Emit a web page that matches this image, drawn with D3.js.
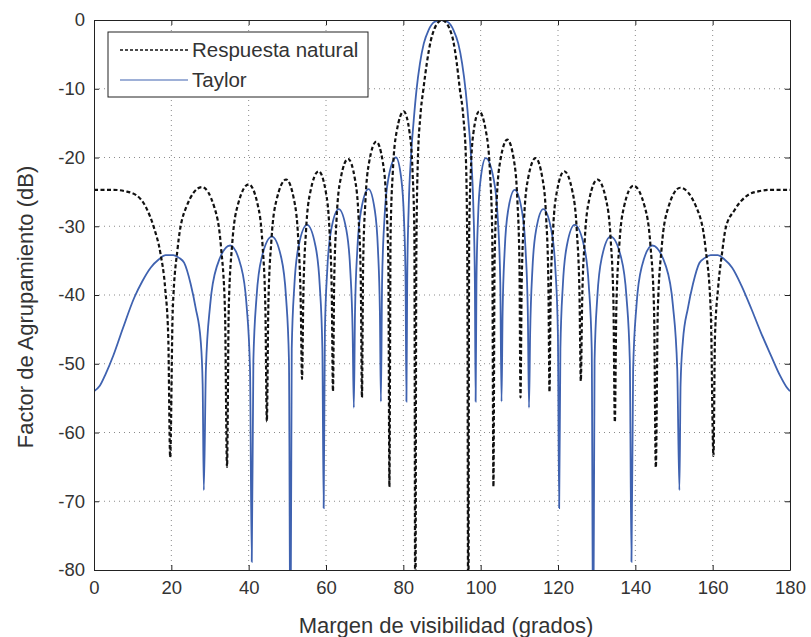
<!DOCTYPE html>
<html>
<head>
<meta charset="utf-8">
<script src="https://cdn.jsdelivr.net/npm/d3@7"></script>
<style>
  body { margin: 0; background: #fff; }
  text { font-family: "Liberation Sans", Arial, sans-serif; fill: #333; }
</style>
</head>
<body>
<div class="chart"></div>
<script>
var svgWidth = 811;
var svgHeight = 637;

var margin = { top: 20, right: 21, bottom: 67, left: 94 };
var width = svgWidth - margin.left - margin.right;
var height = svgHeight - margin.top - margin.bottom;

// tick labels
var xTicks = [0, 20, 40, 60, 80, 100, 120, 140, 160, 180];
var yTicks = [0, -10, -20, -30, -40, -50, -60, -70, -80];

// "Respuesta natural" (uniform array)
var naturalAngle = [
  0, 5, 8, 11, 13.5, 15.5, 17.2, 18.4, 19.2, 19.7,
  20.36, 21.67, 23.8, 27.9, 31.15, 32.84, 33.88, 34.4,
  34.85, 35.74, 37.2, 40.0, 42.35, 43.57, 44.32, 44.7,
  45.1, 45.9, 47.2, 49.7, 51.75, 52.82, 53.47, 53.8,
  54.14, 54.83, 55.95, 58.1, 59.95, 60.91, 61.5, 61.8,
  62.11, 62.74, 63.75, 65.7, 67.5, 68.44, 69.01, 69.3,
  69.6, 70.19, 71.15, 73.0, 74.7, 75.58, 76.13, 76.4,
  76.7, 77.29, 78.25, 80.1, 81.6, 82.38, 82.86, 83.1,
  83.35, 83.75, 84.4, 85.2, 86.1, 87.1, 88.1, 89.1, 90, 90.9, 91.9, 92.9, 93.8, 94.6, 95.5, 96.2, 96.55, 96.8,
  97.02, 97.45, 98.15, 99.6, 101.4, 102.39, 103.0, 103.3,
  103.59, 104.16, 105.1, 106.9, 108.6, 109.48, 110.03, 110.3,
  110.61, 111.24, 112.25, 114.2, 116.0, 116.94, 117.51, 117.8,
  118.1, 118.71, 119.7, 121.6, 123.75, 124.87, 125.56, 125.9,
  126.24, 126.93, 128.05, 130.2, 132.45, 133.62, 134.34, 134.7,
  135.08, 135.85, 137.1, 139.5, 142.4, 143.91, 144.84, 145.3,
  145.8, 146.81, 148.45, 151.6, 155.9, 158.14, 159.51, 160.2,
  160.6, 161.4, 162.4, 163.4, 165.6, 169, 172, 175, 180
];
var naturalDb = [
  -24.7, -24.7, -24.9, -25.5, -27.3, -30.2, -34, -39, -46, -63.6,
  -42.3, -33.0, -27.3, -24.3, -27.3, -33.0, -42.3, -65.0,
  -41.9, -32.6, -26.9, -23.9, -26.9, -32.6, -41.9, -58.4,
  -41.2, -31.9, -26.2, -23.2, -26.2, -31.9, -41.2, -52.2,
  -40.0, -30.7, -25.0, -22.0, -25.0, -30.7, -40.0, -54.0,
  -38.2, -28.9, -23.2, -20.2, -23.2, -28.9, -38.2, -54.9,
  -35.7, -26.4, -20.7, -17.7, -20.7, -26.4, -35.7, -67.9,
  -31.3, -22.0, -16.3, -13.3, -16.3, -22.0, -31.3, -95,
  -35, -20.5, -14, -10, -6.2, -3.0, -1.2, -0.3, 0, -0.3, -1.2, -3.0, -6.2, -10, -14, -20.5, -35, -95,
  -31.3, -22.0, -16.3, -13.3, -16.3, -22.0, -31.3, -67.9,
  -35.4, -26.1, -20.4, -17.4, -20.4, -26.1, -35.4, -54.9,
  -38.1, -28.8, -23.1, -20.1, -23.1, -28.8, -38.1, -54.1,
  -40.0, -30.7, -25.0, -22.0, -25.0, -30.7, -40.0, -52.5,
  -41.2, -31.9, -26.2, -23.2, -26.2, -31.9, -41.2, -58.5,
  -42.1, -32.8, -27.1, -24.1, -27.1, -32.8, -42.1, -65.1,
  -42.4, -33.1, -27.4, -24.4, -27.4, -33.1, -42.4, -63.4,
  -46, -39, -34, -30.2, -27.7, -25.5, -24.9, -24.7, -24.7
];

// Taylor distribution
var taylorAngle = [
  0, 1.5, 3, 5, 7.5, 10.4, 12.5, 14.7, 16.8, 18.5, 20.5, 22, 23.3, 25.0, 26.3, 27.6, 28.1, 28.4,
  28.94, 30.03, 31.8, 35.2, 38.0, 39.46, 40.35, 40.8,
  41.22, 42.05, 43.4, 46.0, 48.4, 49.65, 50.42, 50.8,
  51.14, 51.83, 52.95, 55.1, 57.25, 58.37, 59.06, 59.4,
  59.71, 60.34, 61.35, 63.3, 65.25, 66.26, 66.89, 67.2,
  67.5, 68.11, 69.1, 71.0, 72.6, 73.43, 73.94, 74.2,
  74.51, 75.14, 76.15, 78.1, 79.45, 80.15, 80.58, 80.8,
  81.0, 81.4, 82.0, 82.7, 83.4, 84.3, 85.3, 86.5, 88, 89.7, 91.5, 93, 94.2, 95.2, 96.1, 96.8, 97.5, 98.1, 98.5, 98.7,
  98.91, 99.32, 100.0, 101.3, 103.35, 104.42, 105.07, 105.4,
  105.67, 106.22, 107.1, 108.8, 110.65, 111.61, 112.2, 112.5,
  112.8, 113.39, 114.35, 116.2, 118.25, 119.32, 119.97, 120.3,
  120.62, 121.26, 122.3, 124.3, 126.7, 127.95, 128.72, 129.1,
  129.46, 130.18, 131.35, 133.6, 136.3, 137.7, 138.57, 139.0,
  139.43, 140.3, 141.7, 144.4, 147.9, 149.72, 150.84, 151.4,
  151.7, 152.3, 153.6, 154.9, 156.6, 158, 159.5, 161.3, 163, 165, 167.5, 170, 172.5, 175, 177.5, 179, 180
];
var taylorDb = [
  -54.0, -53.2, -51.5, -48.8, -44.8, -40.4, -38, -36.0, -34.8, -34.2, -34.2, -34.6, -35.3, -38.4, -41.9, -46.7, -53, -68.4,
  -50.8, -41.5, -35.8, -32.8, -35.8, -41.5, -50.8, -78.8,
  -49.5, -40.2, -34.5, -31.5, -34.5, -40.2, -49.5, -95,
  -47.8, -38.5, -32.8, -29.8, -32.8, -38.5, -47.8, -71.0,
  -45.5, -36.2, -30.5, -27.5, -30.5, -36.2, -45.5, -56.4,
  -42.6, -33.3, -27.6, -24.6, -27.6, -33.3, -42.6, -55.5,
  -38.0, -28.7, -23.0, -20.0, -23.0, -28.7, -38.0, -55.5,
  -38, -27, -19.7, -14.5, -10.2, -6.3, -3.4, -1.5, -0.3, 0, -0.3, -1.5, -3.4, -6.3, -10.2, -14.5, -19.7, -27, -38, -55.5,
  -38.1, -28.8, -23.1, -20.1, -23.1, -28.8, -38.1, -55.5,
  -42.7, -33.4, -27.7, -24.7, -27.7, -33.4, -42.7, -56.4,
  -45.5, -36.2, -30.5, -27.5, -30.5, -36.2, -45.5, -71.0,
  -47.8, -38.5, -32.8, -29.8, -32.8, -38.5, -47.8, -95,
  -49.5, -40.2, -34.5, -31.5, -34.5, -40.2, -49.5, -78.8,
  -50.8, -41.5, -35.8, -32.8, -35.8, -41.5, -50.8, -68.4,
  -53, -46.7, -41.9, -38.4, -35.3, -34.6, -34.2, -34.2, -34.8, -36, -38.7, -42, -45.5, -48.7, -51.8, -53.3, -54.0
];

var seriesNames = ["Respuesta natural", "Taylor"];

var svg = d3.select(".chart")
    .append("svg")
    .attr("width", svgWidth)
    .attr("height", svgHeight);

var chartGroup = svg.append("g")
    .attr("transform", `translate(${margin.left}, ${margin.top})`);

var xScale = d3.scaleLinear().domain([0, 180]).range([0, width]);
var yScale = d3.scaleLinear().domain([-80, 0]).range([height, 0]);

// dotted grid
chartGroup.append("g")
    .selectAll("line")
    .data(xTicks.slice(1, -1))
    .enter()
    .append("line")
    .attr("x1", d => xScale(d)).attr("x2", d => xScale(d))
    .attr("y1", 0).attr("y2", height)
    .attr("stroke", "#8a8a8a")
    .attr("stroke-width", 1)
    .attr("stroke-dasharray", "1,4");

chartGroup.append("g")
    .selectAll("line")
    .data(yTicks.slice(1, -1))
    .enter()
    .append("line")
    .attr("x1", 0).attr("x2", width)
    .attr("y1", d => yScale(d)).attr("y2", d => yScale(d))
    .attr("stroke", "#8a8a8a")
    .attr("stroke-width", 1)
    .attr("stroke-dasharray", "1,4");

// clip for curves
svg.append("defs").append("clipPath")
    .attr("id", "plotClip")
    .append("rect")
    .attr("width", width)
    .attr("height", height);

var line = d3.line()
    .x(d => xScale(d[0]))
    .y(d => yScale(d[1]))
    .curve(d3.curveMonotoneX);

var naturalData = naturalAngle.map((a, i) => [a, naturalDb[i]]);
var taylorData = taylorAngle.map((a, i) => [a, taylorDb[i]]);

var curves = chartGroup.append("g").attr("clip-path", "url(#plotClip)");

curves.append("path")
    .datum(taylorData)
    .attr("d", line)
    .attr("fill", "none")
    .attr("stroke", "#3f62b0")
    .attr("stroke-width", 1.8);

curves.append("path")
    .datum(naturalData)
    .attr("d", line)
    .attr("fill", "none")
    .attr("stroke", "#111")
    .attr("stroke-width", 2.2)
    .attr("stroke-dasharray", "4,2.5");

// axes, MATLAB style box with inner ticks (plain hyphen for negatives)
var plain = d => String(d);
var bottomAxis = d3.axisBottom(xScale).tickValues(xTicks).tickSizeInner(-5).tickSizeOuter(0).tickPadding(11).tickFormat(plain);
var leftAxis = d3.axisLeft(yScale).tickValues(yTicks).tickSizeInner(-5).tickSizeOuter(0).tickPadding(9).tickFormat(plain);
var topAxis = d3.axisTop(xScale).tickValues(xTicks).tickSizeInner(-5).tickSizeOuter(0).tickFormat("");
var rightAxis = d3.axisRight(yScale).tickValues(yTicks).tickSizeInner(-5).tickSizeOuter(0).tickFormat("");

chartGroup.append("g").attr("class", "axis").attr("transform", `translate(0, ${height})`).call(bottomAxis);
chartGroup.append("g").attr("class", "axis").call(leftAxis);
chartGroup.append("g").attr("class", "axis").call(topAxis);
chartGroup.append("g").attr("class", "axis").attr("transform", `translate(${width}, 0)`).call(rightAxis);

chartGroup.selectAll(".axis path, .axis line").attr("stroke", "#222");
chartGroup.selectAll(".axis text")
    .attr("font-size", "18.5px")
    .attr("font-family", "Liberation Sans, Arial, sans-serif")
    .attr("fill", "#333");

// axis labels
chartGroup.append("text")
    .attr("transform", "rotate(-90)")
    .attr("x", 0 - (height / 2) - 12)
    .attr("y", 0 - margin.left + 33)
    .attr("text-anchor", "middle")
    .attr("font-size", "22px")
    .text("Factor de Agrupamiento (dB)");

chartGroup.append("text")
    .attr("x", width / 2 + 4)
    .attr("y", height + 63)
    .attr("text-anchor", "middle")
    .attr("font-size", "22px")
    .text("Margen de visibilidad (grados)");

// legend
var legend = svg.append("g").attr("transform", "translate(108, 32)");
legend.append("rect")
    .attr("width", 260).attr("height", 65)
    .attr("fill", "#fff")
    .attr("stroke", "#222")
    .attr("stroke-width", 1);

var legendStyles = [
  { stroke: "#111", width: 1.6, dash: "3,2" },
  { stroke: "#3f62b0", width: 1.2, dash: null }
];

seriesNames.forEach(function(name, i) {
    var yy = 18 + i * 30;
    legend.append("line")
        .attr("x1", 12).attr("x2", 80)
        .attr("y1", yy).attr("y2", yy)
        .attr("stroke", legendStyles[i].stroke)
        .attr("stroke-width", legendStyles[i].width)
        .attr("stroke-dasharray", legendStyles[i].dash);
    legend.append("text")
        .attr("x", 84)
        .attr("y", yy + 7)
        .attr("font-size", "20.5px")
        .text(name);
});
</script>
</body>
</html>
